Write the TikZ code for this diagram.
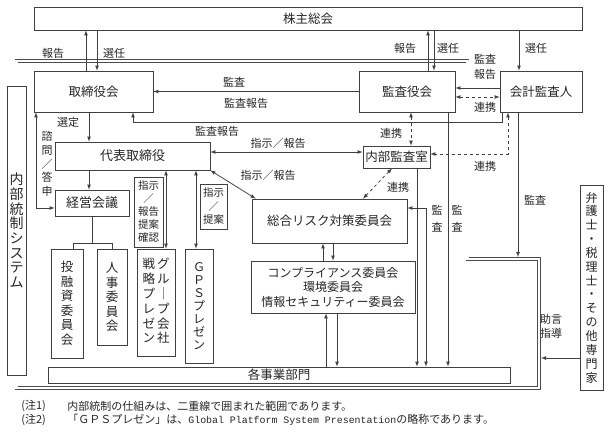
\documentclass[tikz,border=0pt]{standalone}
\usepackage{fontspec}
\newfontfamily\jp{Noto Sans CJK JP}
\newfontfamily\jpmono{Liberation Mono}
\usetikzlibrary{arrows}

\begin{document}
\begin{tikzpicture}[
  x=1pt, y=-1pt,
  line width=0.75pt,
  >={latex[scale=1.2]},
  every node/.style={text=black!85},
  bx/.style={draw=black!75, fill=white, inner sep=0pt, font=\jp\fontsize{12.5}{14.5}\selectfont},
  vt/.style={bx, align=center},
  lbl/.style={inner sep=0pt, font=\jp\fontsize{11}{13.5}\selectfont},
  ln/.style={draw=black!75},
  dsh/.style={draw=black!75, dashed},
]

\fill[white] (0,0) rectangle (610,433);
\useasboundingbox (0,0) rectangle (610,433);

% internal control boundary (double line)
\draw[black!70, line width=0.55pt, double=white, double distance=2.2pt]
  (16.5,61) -- (467.5,61) -- (467.5,259) -- (539,259) -- (539,388) -- (16.5,388) -- cycle;

\node[bx, minimum width=548pt, minimum height=23pt] (kabu) at (308,18.5) {株主総会};
\node[bx, minimum width=119pt, minimum height=41pt] (tori) at (93.5,91.5) {取締役会};
\node[bx, minimum width=96pt, minimum height=41pt] (kansa) at (407,91.5) {監査役会};
\node[bx, minimum width=82pt, minimum height=41pt] (kaikei) at (541,91.5) {会計監査人};
\node[bx, minimum width=155pt, minimum height=28pt, font=\jp\fontsize{13}{15}\selectfont] (daihyo) at (132.5,156) {代表取締役};
\node[bx, minimum width=67pt, minimum height=22pt] (naibu) at (396.5,157) {内部監査室};
\node[bx, minimum width=74pt, minimum height=26pt, font=\jp\fontsize{13}{15}\selectfont] (keiei) at (92,203) {経営会議};
\node[bx, minimum width=155pt, minimum height=44pt] (sogo) at (329.5,221) {総合リスク対策委員会};
\node[vt, minimum width=164pt, minimum height=52pt, font=\jp\fontsize{12}{14.5}\selectfont] (comp) at (333,287)
  {コンプライアンス委員会\\環境委員会\\情報セキュリティー委員会};

\node[vt, minimum width=32pt, minimum height=109pt] (toyu) at (67,303.5) {投\\融\\資\\委\\員\\会};
\node[vt, minimum width=30pt, minimum height=96pt] (jinji) at (112,297) {人\\事\\委\\員\\会};
\node[bx, minimum width=38pt, minimum height=107pt] (group) at (156,302.5)
  {\begin{tabular}{@{}c@{\hspace{2pt}}c@{}}戦&グ\\略&ル\\プ&｜\\レ&プ\\ゼ&会\\ン&社\end{tabular}};
\node[vt, minimum width=28pt, minimum height=114pt, font=\jp\fontsize{12}{13}\selectfont] (gps) at (199,306) {Ｇ\\Ｐ\\Ｓ\\プ\\レ\\ゼ\\ン};
\node[bx, minimum width=462pt, minimum height=16pt] (kaku) at (279,375) {各事業部門};
\node[vt, minimum width=19pt, minimum height=289pt, font=\jp\fontsize{14}{14.7}\selectfont] (naisei) at (16.5,230.5)
  {内\\部\\統\\制\\シ\\ス\\テ\\ム};
\node[vt, minimum width=23pt, minimum height=205pt, font=\jp\fontsize{12}{13.85}\selectfont] (bengo) at (591.5,287.5)
  {弁\\護\\士\\・\\税\\理\\士\\・\\そ\\の\\他\\専\\門\\家};

\node[vt, minimum width=29pt, minimum height=70pt, font=\jp\fontsize{10.5}{13}\selectfont] (sj1) at (148.5,212)
  {指示\\／\\報告\\提案\\確認};
\node[vt, minimum width=27pt, minimum height=45pt, font=\jp\fontsize{10.5}{13.5}\selectfont] (sj2) at (213.5,206.5)
  {指示\\／\\提案};

% guides
\coordinate (g1) at (86,0);
\coordinate (g2) at (97,0);
\coordinate (g3) at (428,0);
\coordinate (g4) at (434,0);
\coordinate (g5) at (519,0);
\coordinate (g6) at (502,122);
\coordinate (g7) at (133,122);
\coordinate (g8) at (89,0);
\coordinate (g9) at (36,208);
\coordinate (g10) at (166,0);
\coordinate (g11) at (196,0);
\coordinate (g12) at (0,152);
\coordinate (g13) at (411,0);
\coordinate (g14) at (508,154);
\coordinate (g15) at (363,0);
\coordinate (g16) at (417,0);
\coordinate (g17) at (426,208);
\coordinate (g18) at (448,0);
\coordinate (g19) at (518,257);
\coordinate (g20) at (323,0);
\coordinate (g21) at (333,0);
\coordinate (g22) at (326,0);
\coordinate (g23) at (337,0);
\coordinate (g24) at (541,358);
\coordinate (t0) at (92,243);
\coordinate (t1) at (73,243);
\coordinate (t2) at (112,243);

% shareholders
\draw[ln,->] (tori.north -| g1) -- (kabu.south -| g1);
\draw[ln,->] (kabu.south -| g2) -- (tori.north -| g2);
\draw[ln,->] (kansa.north -| g3) -- (kabu.south -| g3);
\draw[ln,->] (kabu.south -| g4) -- (kansa.north -| g4);
\draw[ln,->] (kabu.south -| g5) -- (kaikei.north -| g5);

% audit
\draw[ln,->] (kansa.west) -- (tori.east);
\draw[ln,->] ([yshift=3.5pt]kaikei.west) -- ([yshift=3.5pt]kansa.east);
\draw[dsh,<->] ([yshift=-5.5pt]kansa.east) -- ([yshift=-5.5pt]kaikei.west);
\draw[ln,->] (kaikei.south -| g6) -- (g6) -- (g7) -- (tori.south -| g7);

% board
\draw[ln,->] (tori.south -| g8) -- (daihyo.north -| g8);
\draw[ln,->] (daihyo.south -| g8) -- (keiei.north -| g8);
\draw[ln,<->] (tori.south -| g9) -- (g9) -- (keiei.west |- g9);
\draw[ln] (keiei.south -| t0) -- (t0) (t1) -- (t2)
  (t1) -- (toyu.north -| t1) (t2) -- (jinji.north);
\draw[ln,<->] (daihyo.south -| g10) -- (group.north -| g10);
\draw[ln,<->] (daihyo.south -| g11) -- (gps.north -| g11);
\draw[ln,<->] (daihyo.east |- g12) -- (naibu.west |- g12);
\draw[ln,<->] (daihyo.south east) -- ([xshift=4pt]sogo.north west);

% cooperation
\draw[dsh,<->] (kansa.south -| g13) -- (naibu.north -| g13);
\draw[dsh,<->] (kaikei.south -| g14) -- (g14) -- (naibu.east |- g14);
\draw[dsh,<->] ([xshift=-4.5pt]naibu.south) -- (sogo.north -| g15);

% audit of divisions
\draw[ln,->] (naibu.south -| g16) -- (kaku.north -| g16);
\draw[ln,<->] (sogo.east |- g17) -- (g17) -- (kaku.north -| g17);
\draw[ln,->] (kansa.south -| g18) -- (kaku.north -| g18);
\draw[ln,->] (kaikei.south -| g19) -- (g19);

\draw[ln,->] (comp.north -| g20) -- (sogo.south -| g20);
\draw[ln,->] (sogo.south -| g21) -- (comp.north -| g21);
\draw[ln,->] (kaku.north -| g22) -- (comp.south -| g22);
\draw[ln,->] (comp.south -| g23) -- (kaku.north -| g23);
\draw[ln,->] (bengo.west |- g24) -- (g24);

% labels
\node[lbl] (l1) at (53,53) {報告};
\node[lbl] (l2) at (114,53) {選任};
\node[lbl] (l3) at (405,48) {報告};
\node[lbl] (l4) at (448,48) {選任};
\node[lbl] (l5) at (536,48) {選任};
\node[lbl, align=center, font=\jp\fontsize{11}{15}\selectfont] (l6) at (485,66.5) {監査\\報告};
\node[lbl] (l7) at (234,82) {監査};
\node[lbl] (l8) at (246,103) {監査報告};
\node[lbl] (l9) at (485,107) {連携};
\node[lbl] (l10) at (68,122) {選定};
\node[lbl] (l11) at (217,131) {監査報告};
\node[lbl, align=center, font=\jp\fontsize{11}{13.7}\selectfont] (l12) at (47,164) {諮\\問\\／\\答\\申};
\node[lbl] (l13) at (278,143) {指示／報告};
\node[lbl] (l14) at (268,175) {指示／報告};
\node[lbl] (l15) at (391,133) {連携};
\node[lbl] (l16) at (485,166) {連携};
\node[lbl] (l17) at (398,187) {連携};
\node[lbl, align=center, font=\jp\fontsize{11}{16.5}\selectfont] (l18) at (437,218.5) {監\\査};
\node[lbl, align=center, font=\jp\fontsize{11}{16.5}\selectfont] (l19) at (457,218.5) {監\\査};
\node[lbl] (l20) at (535,200) {監査};
\node[lbl, align=center, font=\jp\fontsize{11}{14}\selectfont] (l21) at (551,326) {助言\\指導};

% notes
\node[lbl, anchor=west] (n1) at (21,406) {(注1)};
\node[lbl, anchor=west] (n2) at (67,406) {内部統制の仕組みは、二重線で囲まれた範囲であります。};
\node[lbl, anchor=west] (n3) at (21,420) {(注2)};
\node[lbl, anchor=west] (n4) at (67,420)
  {「ＧＰＳプレゼン」は、{\jpmono\fontsize{9.9}{12}\selectfont Global Platform System Presentation}の略称であります。};

\end{tikzpicture}
\end{document}
